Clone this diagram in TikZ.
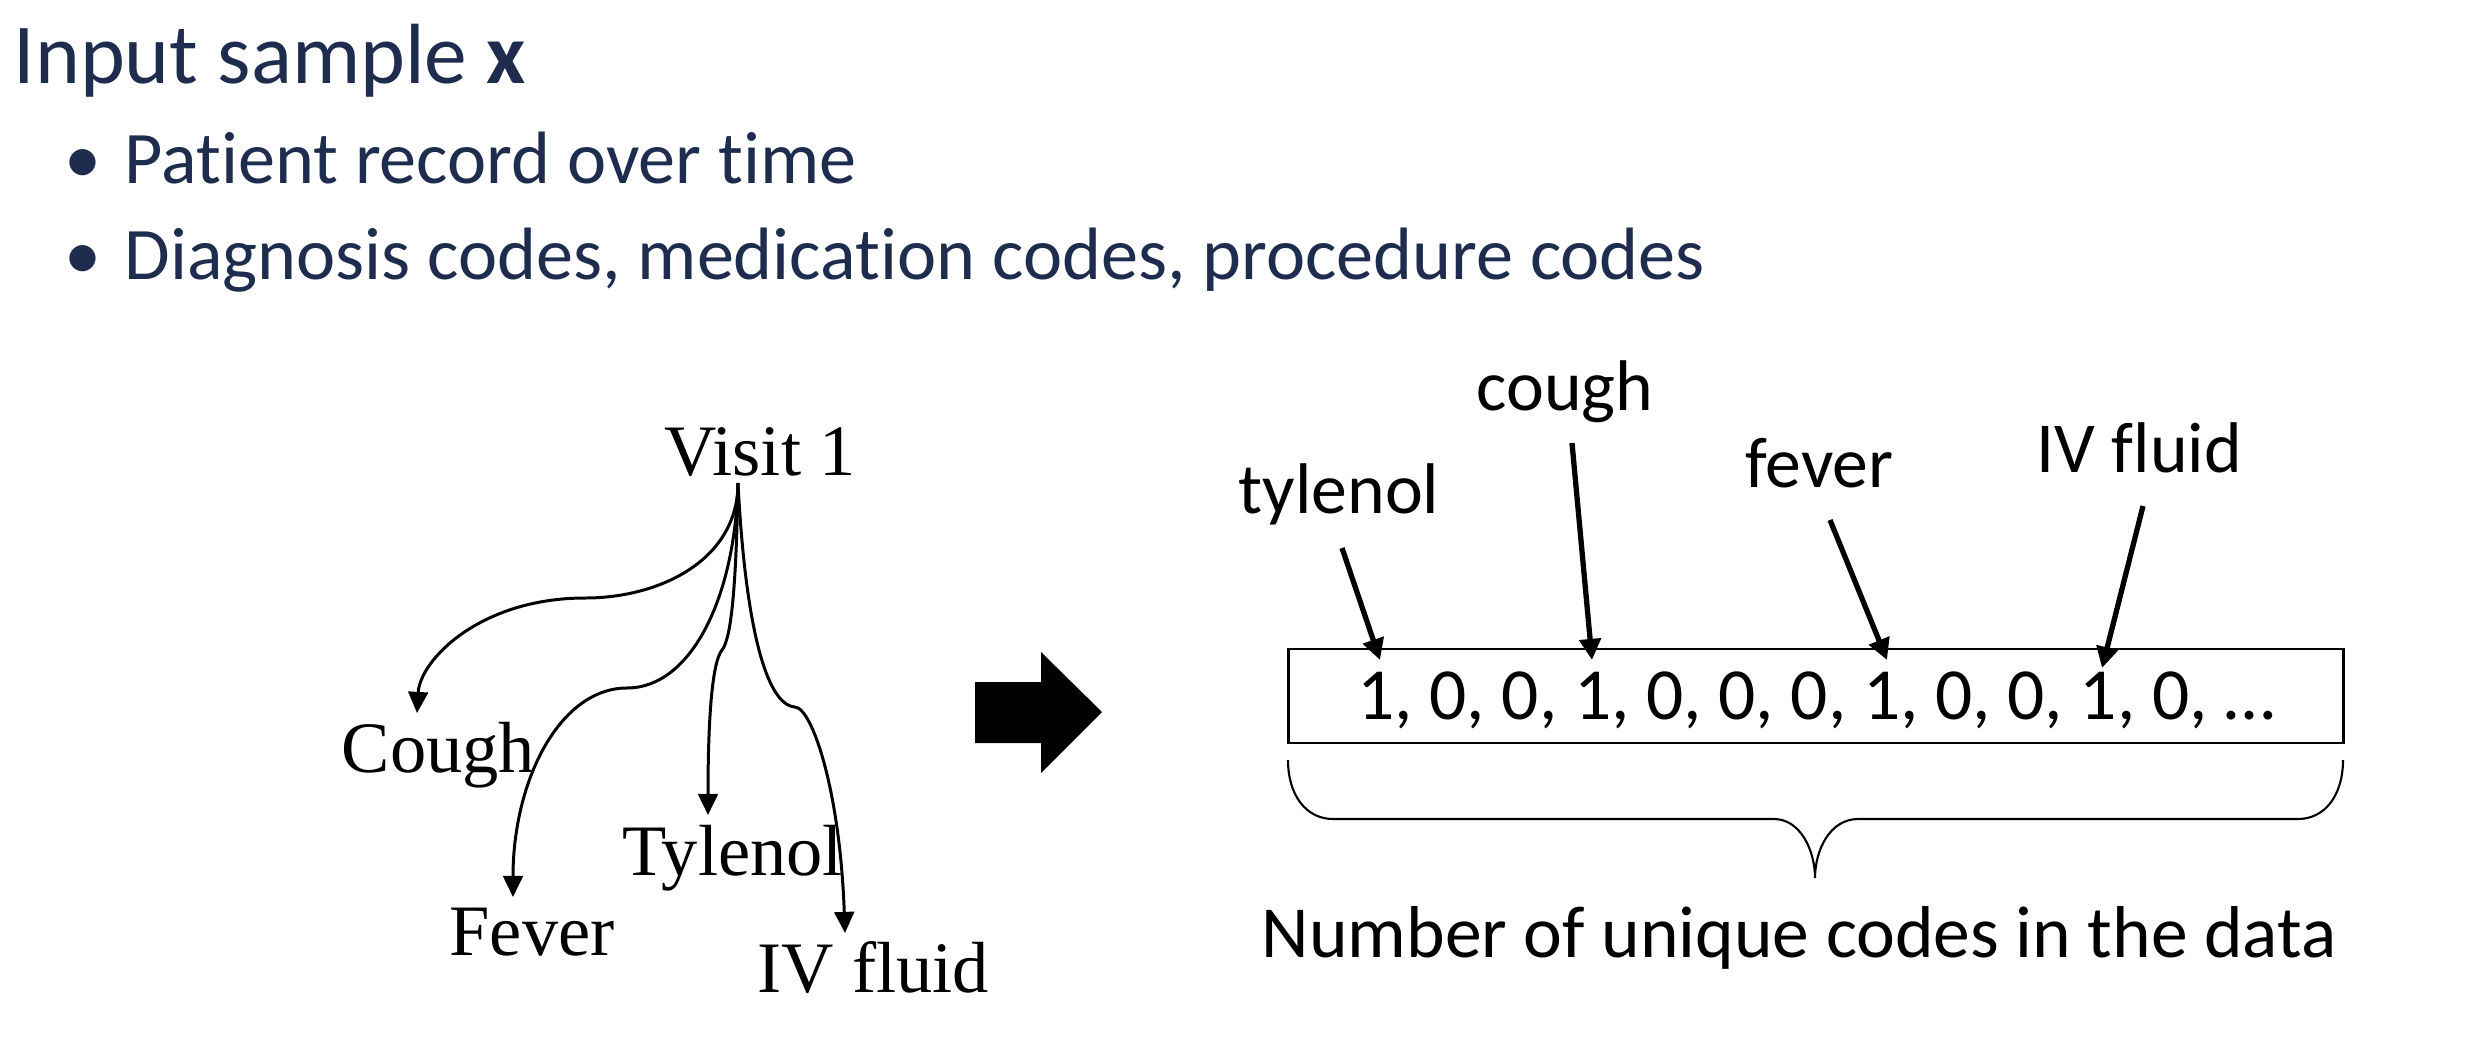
\documentclass[tikz,border=0pt]{standalone}
\usepackage{fontspec}
\setmainfont{Carlito}[Ligatures=NoCommon]
\newfontfamily\timesfam{Liberation Serif}[Ligatures=NoCommon]
\usetikzlibrary{arrows.meta}
\definecolor{navy}{RGB}{30,44,78}
\begin{document}
\begin{tikzpicture}[x=0.01cm,y=-0.01cm,
  ttl/.style={font=\fontsize{24.3pt}{29pt}\selectfont, text=navy, anchor=base west, inner sep=0pt},
  bul/.style={font=\fontsize{21.1pt}{25pt}\selectfont, text=navy, anchor=base west, inner sep=0pt},
  treelbl/.style={font=\timesfam\fontsize{20.6pt}{25pt}\selectfont, anchor=base west, inner sep=0pt},
  codelbl/.style={font=\fontsize{20.4pt}{24pt}\selectfont, anchor=base west, inner sep=0pt},
  bottomlbl/.style={font=\fontsize{20.9pt}{25pt}\selectfont, anchor=base west, inner sep=0pt},
  treearr/.style={line width=0.85pt, -{Triangle[length=6pt,width=5.6pt]}},
  codearr/.style={line width=1.5pt, -{Triangle[length=6pt,width=6pt]}},
  vecbox/.style={draw, line width=0.8pt, minimum width=10.54cm, minimum height=0.94cm,
    inner sep=0pt, text depth=0pt, font=\fontsize{20.9pt}{25pt}\selectfont}
]
\useasboundingbox (0,0) rectangle (2476,1048);

% title and bullets
\node[ttl] (title) at (13,83) {Input sample \textbf{x}};
\node[bul, anchor=base] (bA) at (83,183) {•};
\node[bul] (lineA) at (124,183) {Patient record over time};
\node[bul, anchor=base] (bB) at (83,279) {•};
\node[bul] (lineB) at (124,279) {Diagnosis codes, medication codes, procedure codes};

% tree
\node[treelbl] (visit) at (664,475) {Visit 1};
\node[treelbl] (cough) at (341,772) {Cough};
\node[treelbl] (fever) at (449,955) {Fever};
\node[treelbl] (tyl) at (622,875) {Tylenol};
\node[treelbl] (iv) at (757,992) {IV fluid};

\coordinate (root) at (738,483);
\coordinate (tipC) at (417,713);
\coordinate (tipF) at (513,897);
\coordinate (tipT) at (708,815);
\coordinate (tipI) at (845,933);

\draw[treearr] (root) .. controls (738,560) and (660,598) .. (585,598)
  .. controls (480,598) and (420,660) .. (tipC);
\draw[treearr] (root) .. controls (735,600) and (690,688) .. (627,688)
  .. controls (560,688) and (513,780) .. (tipF);
\draw[treearr] (root) .. controls (736,600) and (730,640) .. (722,650)
  .. controls (712,662) and (708,720) .. (tipT);
\draw[treearr] (root) .. controls (745,620) and (765,705) .. (795,707)
  .. controls (812,708) and (840,790) .. (tipI);

% block arrow
\fill[black] (975,682) -- (1041,682) -- (1041,652) -- (1102,712) -- (1041,773)
  -- (1041,743) -- (975,743) -- cycle;

% vector box
\node[vecbox] (vec) at (1816,696) {1, 0, 0, 1, 0, 0, 0, 1, 0, 0, 1, 0, …};

\node[codelbl] (ltyl) at (1238,513) {tylenol};
\node[codelbl] (lcough) at (1476,410) {cough};
\node[codelbl] (lfever) at (1745,487) {fever};
\node[codelbl] (liv) at (2036,472) {IV fluid};

\coordinate (sT) at (1342,548);
\coordinate (sC) at (1572,443);
\coordinate (sF) at (1830,520);
\coordinate (sI) at (2143,506);
\coordinate (eT) at (1380,660);
\coordinate (eC) at (1592,660);
\coordinate (eF) at (1887,660);
\coordinate (eI) at (2102,668);
\draw[codearr] (sT) -- (eT);
\draw[codearr] (sC) -- (eC);
\draw[codearr] (sF) -- (eF);
\draw[codearr] (sI) -- (eI);

% brace
\draw[line width=0.6pt] (1288,760) .. controls (1288,795) and (1306,819) .. (1333,819)
  -- (1774,819) .. controls (1800,819) and (1815,850) .. (1815,878)
  .. controls (1815,850) and (1830,819) .. (1858,819)
  -- (2298,819) .. controls (2325,819) and (2343,795) .. (2343,760);

\node[bottomlbl] (count) at (1261,957) {Number of unique codes in the data};
\end{tikzpicture}
\end{document}
